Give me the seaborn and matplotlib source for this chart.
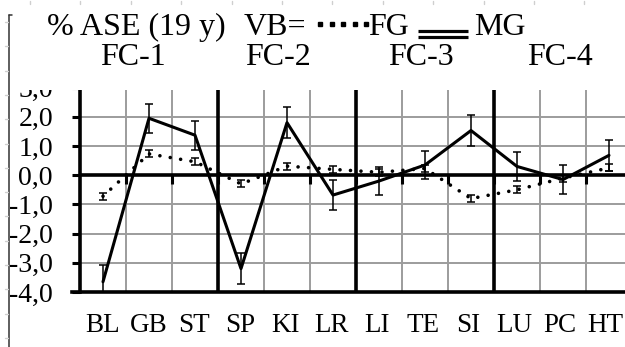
import numpy as np
import pandas as pd
import matplotlib
matplotlib.use("Agg")
import matplotlib.pyplot as plt
import matplotlib.transforms as mtransforms
from matplotlib.lines import Line2D
from matplotlib.patches import Rectangle
import seaborn as sns

# ---- data -------------------------------------------------------------
categories = ["BL", "GB", "ST", "SP", "KI", "LR", "LI", "TE", "SI", "LU", "PC", "HT"]
mg_values = [-3.65, 1.95, 1.37, -3.20, 1.80, -0.68, -0.20, 0.35, 1.53, 0.30, -0.15, 0.68]
mg_errors = [0.58, 0.50, 0.50, 0.52, 0.52, 0.52, 0.47, 0.48, 0.52, 0.50, 0.50, 0.53]
fg_values = [-0.72, 0.73, 0.46, -0.30, 0.31, 0.20, 0.10, 0.23, -0.80, -0.50, -0.10, 0.25]
fg_errors = [0.12, 0.12, 0.12, 0.12, 0.12, 0.12, 0.12, 0.12, 0.12, 0.12, 0.12, 0.12]
y_ticks = [-4, -3, -2, -1, 0, 1, 2, 3]
y_tick_labels = ["-4,0", "-3,0", "-2,0", "-1,0", "0,0", "1,0", "2,0", "3,0"]
group_labels = ["FC-1", "FC-2", "FC-3", "FC-4"]
group_breaks = [3, 6, 9]

W, H = 625, 347
sns.set_theme(style="white")
plt.rcParams["font.family"] = ["Liberation Serif", "DejaVu Serif"]

fig = plt.figure(figsize=(W / 100, H / 100), dpi=100)
fig.patch.set_facecolor("white")

n = len(categories)
cat_w = 46.0
unit_h = 29.2
ax = fig.add_axes([80 / W, (H - 292) / H, n * cat_w / W, 7 * unit_h / H])
ax.set_facecolor("white")

pos = np.arange(n) + 0.5
df = pd.DataFrame({"pos": pos, "cat": categories, "MG": mg_values, "FG": fg_values})

# grid
for gx in range(0, n + 1):
    ax.axvline(gx, color="#9c9c9c", lw=1.4, zorder=0.5)
for gy in y_ticks:
    ax.axhline(gy, color="#9c9c9c", lw=1.4, zorder=0.5)

# group separators and zero line
for b in group_breaks:
    ax.axvline(b, color="black", lw=2.6, zorder=1)
ax.axhline(0, color="black", lw=2.6, zorder=1)
ax.vlines(np.arange(1, n + 1), -0.3, 0, color="black", lw=2.2, zorder=1)

# MG: solid line with error bars
sns.lineplot(data=df, x="pos", y="MG", ax=ax, color="black", lw=2.2, zorder=3)
ax.errorbar(pos, mg_values, yerr=mg_errors, fmt="none", ecolor="black",
            elinewidth=1.1, capsize=3.2, capthick=1.1, zorder=3)

# FG: dotted line with error bars
sns.lineplot(data=df, x="pos", y="FG", ax=ax, color="black", lw=2.6, zorder=3)
fg_line = ax.lines[-1]
fg_line.set_linestyle((0, (0.01, 2.9)))
fg_line.set_dash_capstyle("round")
ax.errorbar(pos, fg_values, yerr=fg_errors, fmt="none", ecolor="black",
            elinewidth=1.1, capsize=3.2, capthick=1.1, zorder=3)

ax.set_xlim(0, n)
ax.set_ylim(-4, 3)
ax.set_xticks(pos)
ax.set_xticklabels(categories, fontsize=19.5)
ax.set_yticks(y_ticks)
ax.set_yticklabels(y_tick_labels, fontsize=20)
ax.set_xlabel("")
ax.set_ylabel("")
ax.tick_params(axis="x", length=0, pad=15, colors="black")
ax.tick_params(axis="y", direction="out", length=6, width=2.2, pad=13.5,
               left=True, colors="black")
# category labels sit on a slightly tighter pitch than the columns
for i, lab in enumerate(ax.get_xticklabels()):
    shift = mtransforms.ScaledTranslation(-0.3 * i / 100, 0, fig.dpi_scale_trans)
    lab.set_transform(lab.get_transform() + shift)
for s in ["top", "right"]:
    ax.spines[s].set_visible(False)
for s in ["left", "bottom"]:
    ax.spines[s].set_color("black")
    ax.spines[s].set_linewidth(2.6)
ax.spines["bottom"].set_bounds(-0.18, n)


def px(x, y):
    return x / W, 1 - y / H


# white band behind the header
fig.add_artist(Rectangle(px(12, 90), (W - 12) / W, 90 / H, transform=fig.transFigure,
                         facecolor="white", edgecolor="none", zorder=5))

# header texts
tk = dict(fontsize=23, color="black", va="baseline", ha="left", zorder=6)
fig.text(*px(47, 35), "% ASE (19 y)", **tk)
fig.text(*px(244, 35), "VB=", **tk)
fig.text(*px(368, 35), "FG", **tk)
fig.text(*px(474, 35), "MG", **tk)
for gx, lab in zip([100, 245, 388, 527], group_labels):
    fig.text(*px(gx, 65), lab, **tk)

# header line keys
dots_x = [320, 331.5, 343, 354.5, 366]
fig.add_artist(Line2D([x / W for x in dots_x], [1 - 24 / H] * 5, transform=fig.transFigure,
                      ls="none", marker="s", ms=3.4, mfc="black", mec="black", zorder=6))
for yy in (31, 37):
    fig.add_artist(Line2D([418 / W, 468 / W], [1 - yy / H] * 2, transform=fig.transFigure,
                          color="black", lw=2.3, solid_capstyle="butt", zorder=6))

# page margin ruler
fig.add_artist(Line2D([8.5 / W] * 2, [1 - 15 / H, 0], transform=fig.transFigure,
                      color="#333333", lw=1.1, zorder=6))
fig.add_artist(Line2D([8.5 / W, 12 / W], [1 - 15 / H] * 2, transform=fig.transFigure,
                      color="#333333", lw=1.1, zorder=6))
for k in range(12):
    xx = 30 + 50.4 * k
    fig.add_artist(Line2D([xx / W] * 2, [1 - 1 / H, 1 - 4 / H], transform=fig.transFigure,
                          color="#cfcfcf", lw=1.0, zorder=6))
for k in range(14):
    yy = 22 + 24.3 * k
    fig.add_artist(Line2D([4.5 / W, 7.5 / W], [1 - yy / H] * 2, transform=fig.transFigure,
                          color="#cfcfcf", lw=1.0, zorder=6))

fig.savefig("out.png", dpi=100, facecolor="white")
